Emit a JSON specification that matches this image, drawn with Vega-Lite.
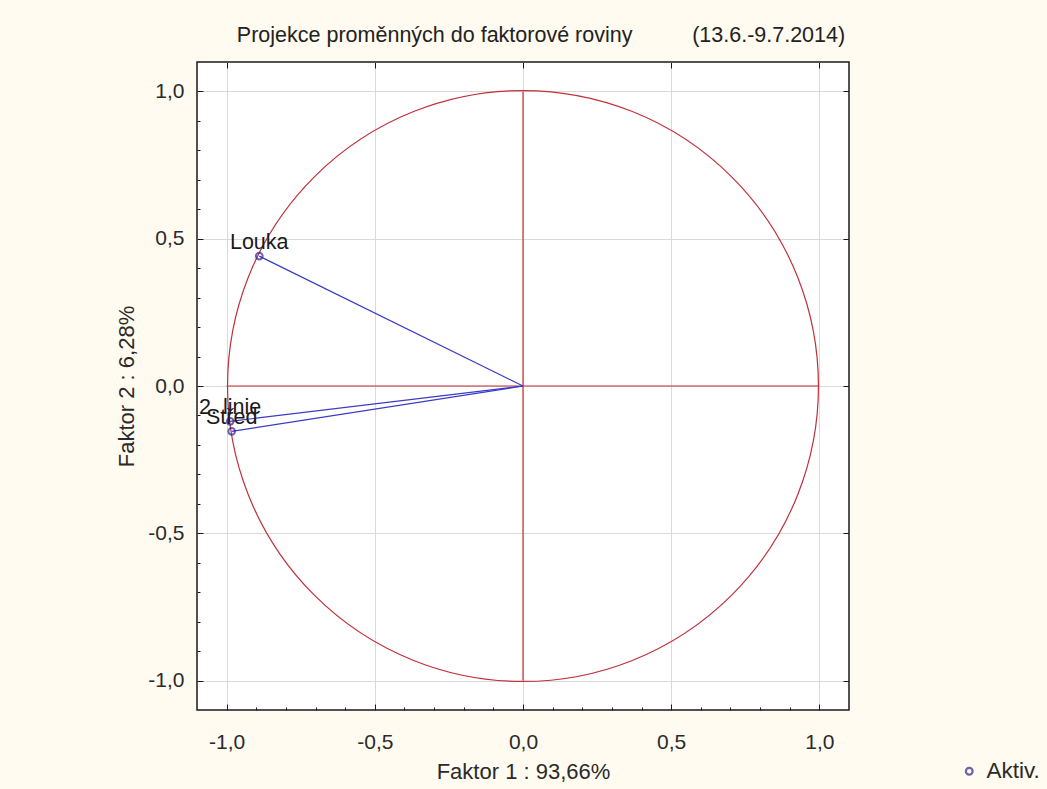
{
  "$schema": "https://vega.github.io/schema/vega-lite/v6.json",
  "autosize": {"type": "none"},
  "padding": {"left": 197, "top": 62, "right": 198, "bottom": 79},
  "width": 652,
  "height": 648,
  "background": "#fffbf0",
  "view": {"fill": "#ffffff", "stroke": "#1a1a1a", "strokeWidth": 1.5},
  "title": {
    "text": "Projekce proměnných do faktorové roviny\u00a0\u00a0\u00a0\u00a0\u00a0\u00a0\u00a0\u00a0\u00a0\u00a0(13.6.-9.7.2014)",
    "font": "Liberation Sans",
    "fontSize": 21.5,
    "fontWeight": "normal",
    "color": "#222222",
    "anchor": "middle",
    "dx": 18,
    "offset": 15
  },
  "config": {
    "font": "Liberation Sans",
    "axis": {
      "labelFont": "Liberation Sans",
      "titleFont": "Liberation Sans",
      "labelColor": "#2a2a2a",
      "titleColor": "#2a2a2a",
      "titleFontWeight": "normal",
      "gridColor": "#d9d9d9",
      "gridOpacity": 1,
      "tickColor": "#1a1a1a",
      "domain": false
    },
    "legend": {"labelFont": "Liberation Sans"}
  },
  "datasets": {
    "circle": [{"r": 1}],
    "cross": [
      {"x": -1, "x2": 1, "y": 0, "y2": 0},
      {"x": 0, "x2": 0, "y": -1, "y2": 1}
    ],
    "vars": [
      {"name": "Louka", "f1": -0.89, "f2": 0.441, "typ": "Aktiv."},
      {"name": "2. linie", "f1": -0.988, "f2": -0.12, "typ": "Aktiv."},
      {"name": "Střed", "f1": -0.983, "f2": -0.154, "typ": "Aktiv."}
    ]
  },
  "resolve": {"axis": {"x": "independent", "y": "independent"}},
  "layer": [
    {
      "data": {"name": "circle"},
      "mark": {"type": "arc", "filled": false, "stroke": "#c0303a", "strokeWidth": 1.2, "theta": 0, "theta2": 6.2832},
      "encoding": {
        "radius": {
          "field": "r",
          "type": "quantitative",
          "scale": {"type": "linear", "domain": [0, 1.1], "range": [0, {"expr": "(width + height) / 4"}], "zero": true}
        }
      }
    },
    {
      "data": {"name": "cross"},
      "mark": {"type": "rule", "color": "#c0303a", "strokeWidth": 1.2},
      "encoding": {
        "x": {
          "field": "x",
          "type": "quantitative",
          "scale": {"domain": [-1.1, 1.1], "nice": false, "zero": false},
          "axis": {
            "orient": "bottom",
            "values": [-1, -0.5, 0, 0.5, 1],
            "labelExpr": "replace(replace(format(datum.value, '.1f'), '.', ','), '−', '-')",
            "labelFontSize": 21,
            "labelPadding": 21,
            "ticks": false,
            "grid": true,
            "title": "Faktor 1 : 93,66%",
            "titleFontSize": 22,
            "titlePadding": 9
          }
        },
        "x2": {"field": "x2"},
        "y": {
          "field": "y",
          "type": "quantitative",
          "scale": {"domain": [-1.1, 1.1], "nice": false, "zero": false},
          "axis": {
            "orient": "left",
            "values": [-1, -0.5, 0, 0.5, 1],
            "labelExpr": "replace(replace(format(datum.value, '.1f'), '.', ','), '−', '-')",
            "labelFontSize": 21,
            "labelPadding": 13,
            "ticks": false,
            "grid": true,
            "title": "Faktor 2 : 6,28%",
            "titleFontSize": 22,
            "titlePadding": 9
          }
        },
        "y2": {"field": "y2"}
      }
    },
    {
      "data": {"name": "vars"},
      "mark": {"type": "rule", "color": "#3a3ac4", "strokeWidth": 1.2},
      "encoding": {
        "x": {
          "field": "f1",
          "type": "quantitative",
          "axis": {
            "orient": "bottom",
            "values": [-1, -0.9, -0.8, -0.7, -0.6, -0.5, -0.4, -0.3, -0.2, -0.1, 0, 0.1, 0.2, 0.3, 0.4, 0.5, 0.6, 0.7, 0.8, 0.9, 1],
            "labels": false,
            "grid": false,
            "tickSize": -3,
            "title": null
          }
        },
        "x2": {"datum": 0},
        "y": {
          "field": "f2",
          "type": "quantitative",
          "axis": {
            "orient": "left",
            "values": [-1, -0.9, -0.8, -0.7, -0.6, -0.5, -0.4, -0.3, -0.2, -0.1, 0, 0.1, 0.2, 0.3, 0.4, 0.5, 0.6, 0.7, 0.8, 0.9, 1],
            "labels": false,
            "grid": false,
            "tickSize": -3,
            "title": null
          }
        },
        "y2": {"datum": 0}
      }
    },
    {
      "data": {"name": "vars"},
      "mark": {"type": "point", "shape": "circle", "filled": false, "size": 45, "strokeWidth": 2},
      "encoding": {
        "x": {
          "field": "f1",
          "type": "quantitative",
          "axis": {"orient": "top", "values": [-1, -0.5, 0, 0.5, 1], "labels": false, "grid": false, "tickSize": -6, "title": null}
        },
        "y": {
          "field": "f2",
          "type": "quantitative",
          "axis": {"orient": "right", "values": [-1, -0.5, 0, 0.5, 1], "labels": false, "grid": false, "tickSize": -6, "title": null}
        },
        "color": {
          "field": "typ",
          "type": "nominal",
          "scale": {"range": ["#2b2590"]},
          "legend": {
            "orient": "none",
            "legendX": 761,
            "legendY": 698,
            "title": null,
            "symbolType": "circle",
            "symbolSize": 45,
            "symbolStrokeWidth": 2.2,
            "symbolFillColor": "transparent",
            "labelFontSize": 22.5,
            "labelColor": "#2a2a2a",
            "labelOffset": 6
          }
        }
      }
    },
    {
      "data": {"name": "vars"},
      "mark": {"type": "text", "baseline": "alphabetic", "align": "center", "dy": -7, "fontSize": 21.5, "color": "#1a1a1a"},
      "encoding": {
        "x": {
          "field": "f1",
          "type": "quantitative",
          "axis": {"orient": "bottom", "values": [-1, -0.5, 0, 0.5, 1], "labels": false, "grid": false, "tickSize": -6, "title": null}
        },
        "y": {
          "field": "f2",
          "type": "quantitative",
          "axis": {"orient": "left", "values": [-1, -0.5, 0, 0.5, 1], "labels": false, "grid": false, "tickSize": -6, "title": null}
        },
        "text": {"field": "name"}
      }
    }
  ]
}
